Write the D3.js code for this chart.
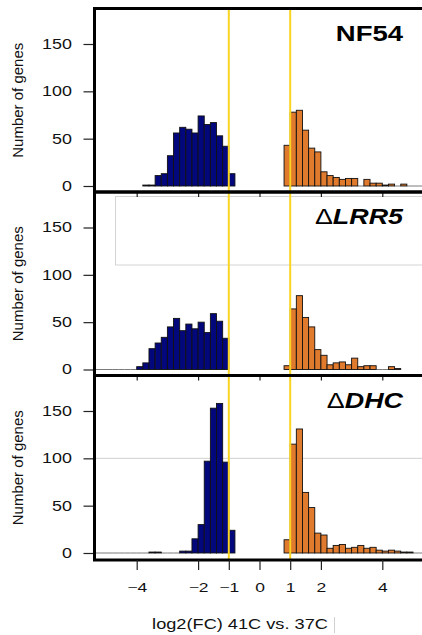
<!DOCTYPE html>
<html>
<head>
<meta charset="utf-8">
<script src="https://cdn.jsdelivr.net/npm/d3@7"></script>
<style>
body { margin: 0; background: #fff; }
svg { display: block; font-family: "Liberation Sans", Arial, sans-serif; }
</style>
</head>
<body>
<svg id="chart" width="422" height="635"></svg>
<script>
// histogram bins (lower edges, log2 FC)
var binWidth = 0.2
var downBins = [-5.4, -5.2, -5.0, -4.8, -4.6, -4.4, -4.2, -4.0, -3.8, -3.6, -3.4, -3.2,
  -3.0, -2.8, -2.6, -2.4, -2.2, -2.0, -1.8, -1.6, -1.4, -1.2, -1.0]
var upBins = [0.8, 1.0, 1.2, 1.4, 1.6, 1.8, 2.0, 2.2, 2.4, 2.6, 2.8, 3.0,
  3.2, 3.4, 3.6, 3.8, 4.0, 4.2, 4.4, 4.6, 4.8, 5.0, 5.2]

// counts per bin, null = no bar drawn
var nf54Down = [null, null, null, null, null, null, null, null, 1, 1, 11, 13,
  32, 56, 62, 60, 56, 74, 65, 67, 53, 42, 13]
var nf54Up = [43, 78, 80, 59, 40, 36, 15, 11, 9, 7, 8, 8,
  0, 7, 3, 3, 1, 2, 0, 2, 0, 0, 0]
var lrr5Down = [0, 0, 0, 0, 0, 0, 0, 3, 7, 22, 28, 34,
  45, 54, 41, 48, 43, 50, 39, 59, 51, 33, null]
var lrr5Up = [4, 64, 78, 55, 45, 21, 15, 5, 7, 8, 5, 12,
  3, 4, 4, 0, 0, 3, 1, null, null, null, null]
var dhcDown = [0, 0, 0, 0, 0, 0, 0, 0, 0, 1, 1, 0,
  0, 0, 2, 2, 15, 30, 97, 153, 158, 96, 24]
var dhcUp = [14, 115, 131, 64, 48, 21, 19, 5, 8, 9, 5, 6,
  8, 5, 6, 3, 2, 3, 2, 1, 1, 0, 0]

var panelNames = ["NF54", "LRR5", "DHC"]
var yTicks = [0, 50, 100, 150]
var xTicks = [-4, -2, -1, 0, 1, 2, 4]
var innerTicks = [-4, -2, 0, 2, 4]
var cutoffs = [-1, 1]

var panels = [
  {name: panelNames[0], delta: false, down: nf54Down, up: nf54Up, top: 8.5},
  {name: panelNames[1], delta: true, down: lrr5Down, up: lrr5Up, top: 192},
  {name: panelNames[2], delta: true, down: dhcDown, up: dhcUp, top: 375.5}
]

var svg = d3.select("#chart")
var left = 94.5
var bottom = 560
var blue = "#03077c"
var orange = "#e07a2c"
var sx = 1.28

var x = d3.scaleLinear().domain([-4, 4]).range([136.7, 382.3])

svg.append("rect").attr("width", 422).attr("height", 635).attr("fill", "#fff")

// stray lines left in the original figure
svg.append("rect")
  .attr("x", 115.5).attr("y", 196.5).attr("width", 320).attr("height", 68.5)
  .attr("fill", "none").attr("stroke", "#d4d4d4")
svg.append("line")
  .attr("x1", 334.5).attr("x2", 334.5).attr("y1", 617).attr("y2", 633)
  .attr("stroke", "#d0d0d0")

panels.forEach(function(p, k) {
  var panelBottom = k < 2 ? panels[k + 1].top : bottom
  var y = d3.scaleLinear().domain([0, 150]).range([p.top + 177.5, p.top + 35.5])
  var g = svg.append("g")

  if (k == 2) {
    g.append("line")
      .attr("x1", left).attr("x2", 422)
      .attr("y1", y(100)).attr("y2", y(100))
      .attr("stroke", "#c4c4c4").attr("stroke-width", 0.8)
  }

  function bars(bins, counts, color) {
    var data = bins.map(function(b, i) { return {x0: b, n: counts[i]} })
      .filter(function(d) { return d.n !== null })
    g.selectAll(null)
      .data(data.filter(function(d) { return d.n == 0 }))
      .join("line")
      .attr("x1", function(d) { return x(d.x0) })
      .attr("x2", function(d) { return x(d.x0 + binWidth) })
      .attr("y1", y(0)).attr("y2", y(0))
      .attr("stroke", "#7a7a7a").attr("stroke-width", 1)
    g.selectAll(null)
      .data(data.filter(function(d) { return d.n > 0 }))
      .join("rect")
      .attr("x", function(d) { return x(d.x0) })
      .attr("width", function(d) { return x(d.x0 + binWidth) - x(d.x0) })
      .attr("y", function(d) { return y(d.n) })
      .attr("height", function(d) { return y(0) - y(d.n) })
      .attr("fill", color)
      .attr("stroke", "#111").attr("stroke-width", 0.9)
  }
  bars(downBins, p.down, blue)
  bars(upBins, p.up, orange)

  // y axis
  var ya = g.append("g")
    .attr("transform", "translate(" + left + ",0)")
    .call(d3.axisLeft(y).tickValues(yTicks).tickSize(11).tickFormat(d3.format("d")))
  ya.select(".domain").remove()
  ya.selectAll("line").attr("stroke", "#222").attr("stroke-width", 1.2)
  ya.selectAll("text")
    .attr("x", -22.5 / sx)
    .attr("transform", "scale(" + sx + ",1)")
    .attr("font-size", 14).attr("fill", "#111")
    .attr("font-family", "Liberation Sans, Arial, sans-serif")

  g.append("text")
    .attr("transform", "translate(22.5," + (p.top + panelBottom) / 2 + ") rotate(-90)")
    .attr("text-anchor", "middle")
    .attr("font-size", 15).attr("fill", "#111")
    .text("Number of genes")

  // panel title
  var t = g.append("text")
    .attr("transform", "translate(403," + (p.top + 32) + ") scale(1.25,1)")
    .attr("text-anchor", "end")
    .attr("font-size", p.delta ? 21.5 : 22)
    .attr("font-weight", "bold")
    .attr("fill", "#000")
  if (p.delta) {
    t.append("tspan").attr("font-weight", "normal").text("\u0394")
    t.append("tspan").attr("font-style", "italic").text(p.name)
  } else {
    t.text(p.name)
  }

  // small ticks below upper panels
  if (k < 2) {
    var ia = g.append("g")
      .attr("transform", "translate(0," + panelBottom + ")")
      .call(d3.axisBottom(x).tickValues(innerTicks).tickSize(5).tickFormat(""))
    ia.select(".domain").remove()
    ia.selectAll("line").attr("stroke", "#222").attr("stroke-width", 1.2)
  }
})

// cutoff lines
svg.selectAll(".cut")
  .data(cutoffs)
  .join("line")
  .attr("class", "cut")
  .attr("x1", function(d) { return x(d) })
  .attr("x2", function(d) { return x(d) })
  .attr("y1", 8.5).attr("y2", bottom)
  .attr("stroke", "#f9d422").attr("stroke-width", 2)

// frames
panels.forEach(function(p, k) {
  var panelBottom = k < 2 ? panels[k + 1].top : bottom
  svg.append("rect")
    .attr("x", left).attr("y", p.top)
    .attr("width", 400).attr("height", panelBottom - p.top)
    .attr("fill", "none").attr("stroke", "#000").attr("stroke-width", 3)
})

// x axis
var xa = svg.append("g")
  .attr("transform", "translate(0," + bottom + ")")
  .call(d3.axisBottom(x).tickValues(xTicks).tickSize(10).tickPadding(13))
xa.select(".domain").remove()
xa.selectAll("line").attr("stroke", "#222").attr("stroke-width", 1.2)
xa.selectAll("text")
  .attr("transform", "scale(1.4,1)")
  .attr("font-size", 12.5).attr("fill", "#111")
  .attr("font-family", "Liberation Sans, Arial, sans-serif")

svg.append("text")
  .attr("transform", "translate(240,629) scale(1.3,1)")
  .attr("text-anchor", "middle")
  .attr("font-size", 14).attr("fill", "#111")
  .text("log2(FC) 41C vs. 37C")
</script>
</body>
</html>
